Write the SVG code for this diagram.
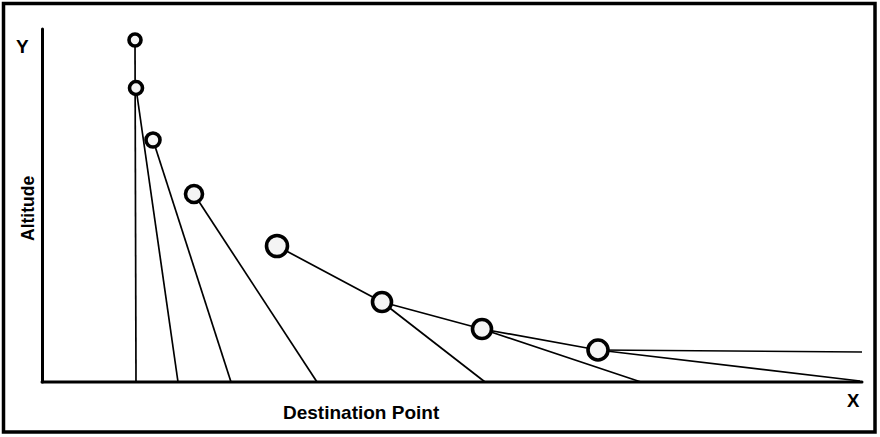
<svg xmlns="http://www.w3.org/2000/svg" width="880" height="437" viewBox="0 0 880 437">
<style>
.frame{fill:none;stroke:#000;stroke-width:3.5}
.axis{stroke:#000;stroke-width:3;fill:none;stroke-linecap:round}
.edge{stroke:#000;stroke-width:1.7;fill:none}
.pt{fill:#f4f4f4;stroke:#000;stroke-width:3.6}
.lbl{font-family:"Liberation Sans",Arial,sans-serif;font-weight:bold;fill:#000}
</style>
<rect x="3.5" y="3.5" width="871.5" height="428.5" class="frame"/>
<g id="axes">
<line x1="42.5" y1="29" x2="42.5" y2="382" class="axis"/>
<line x1="42" y1="382" x2="862" y2="382" class="axis"/>
</g>
<g id="connectors">
<line x1="135" y1="40" x2="136" y2="382" class="edge"/>
<line x1="136" y1="88" x2="178" y2="382" class="edge"/>
<line x1="153" y1="140" x2="231" y2="382" class="edge"/>
<line x1="194" y1="194" x2="317" y2="382" class="edge"/>
<line x1="277" y1="246" x2="382" y2="302" class="edge"/>
<line x1="382" y1="302" x2="485" y2="382" class="edge"/>
<line x1="382" y1="302" x2="482" y2="329" class="edge"/>
<line x1="482" y1="329" x2="641" y2="382" class="edge"/>
<line x1="482" y1="329" x2="598" y2="350" class="edge"/>
<line x1="598" y1="350" x2="862" y2="352" class="edge"/>
<line x1="598" y1="350" x2="860" y2="381" class="edge"/>
</g>
<g id="p1"><circle cx="135" cy="40" r="6" class="pt"/></g>
<g id="p2"><circle cx="136" cy="88" r="6.5" class="pt"/></g>
<g id="p3"><circle cx="153" cy="140" r="7" class="pt"/></g>
<g id="p4"><circle cx="194" cy="194" r="8.5" class="pt"/></g>
<g id="p5"><circle cx="277" cy="246" r="10.5" class="pt"/></g>
<g id="p6"><circle cx="382" cy="302" r="9.5" class="pt"/></g>
<g id="p7"><circle cx="482" cy="329" r="9.5" class="pt"/></g>
<g id="p8"><circle cx="598" cy="350" r="10" class="pt"/></g>
<g id="labels">
<text x="16" y="53" class="lbl" font-size="19">Y</text>
<text x="847" y="407" class="lbl" font-size="18.5">X</text>
<text transform="translate(34,241) rotate(-90)" class="lbl" font-size="17.5">Altitude</text>
<text x="283" y="419" class="lbl" font-size="19">Destination Point</text>
</g>
</svg>
